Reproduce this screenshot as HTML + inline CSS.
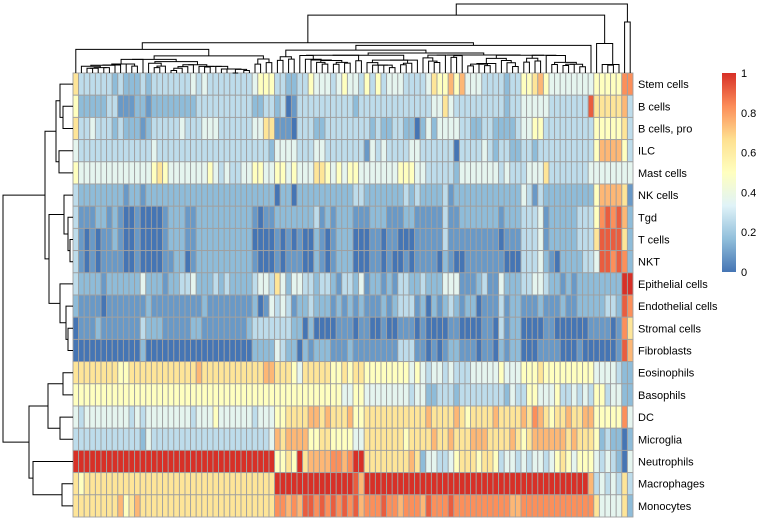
<!DOCTYPE html>
<html><head><meta charset="utf-8">
<style>
html,body{margin:0;padding:0;background:#fff;}
svg{display:block;font-family:"Liberation Sans",sans-serif;}
</style></head>
<body>
<svg id="chart" width="758" height="523" viewBox="0 0 758 523" xmlns="http://www.w3.org/2000/svg">
  <defs>
    <linearGradient id="lg" x1="0" y1="1" x2="0" y2="0">
      <stop offset="0" stop-color="#4575B4"/>
      <stop offset="0.1667" stop-color="#91BFDB"/>
      <stop offset="0.3333" stop-color="#E0F3F8"/>
      <stop offset="0.5" stop-color="#FFFFBF"/>
      <stop offset="0.6667" stop-color="#FEE090"/>
      <stop offset="0.8333" stop-color="#FC8D59"/>
      <stop offset="1" stop-color="#D73027"/>
    </linearGradient>
  </defs>
  <g id="cells"></g>
  <g id="coldend"></g>
  <g id="rowdend"></g>
  <g id="rowlabels"></g>
  <g id="legend">
    <rect x="722" y="73" width="14" height="199" fill="url(#lg)"/>
  </g>
</svg>
<script>
const rowNames = ["Stem cells","B cells","B cells, pro","ILC","Mast cells","NK cells","Tgd","T cells","NKT","Epithelial cells","Endothelial cells","Stromal cells","Fibroblasts","Eosinophils","Basophils","DC","Microglia","Neutrophils","Macrophages","Monocytes"];
const levelValues = [0,0.08,0.16,0.26,0.36,0.5,0.64,0.75,0.83,0.92,1];
const row0  = "6 3 3 3 3 3 3 2 3 2 2 2 3 2 3 3 3 3 3 3 3 4 3 4 3  3 3 3 3 3 3 3 4 5 5 5 3 3 2 2 3 3 5 4 4 4 3 4 5 4  4 3 5 3 5 3 4 4 4 3 3 3 3 4 6 5 5 7 5 7 4 4 4 3 3  3 3 2 3 3 5 5 6 7 5 4 4 4 4 4 4 4 4 5 5 5 5 5 8 8";
const row1  = "5 2 2 2 2 2 3 3 1 1 1 2 2 1 2 2 2 2 2 2 2 2 3 3 3  3 3 3 3 3 3 3 2 2 3 3 2 3 0 1 3 3 3 3 3 3 3 3 3 3  2 3 3 3 3 3 3 3 3 3 3 3 3 3 4 4 6 4 3 3 3 3 3 3 3  3 3 2 3 3 4 4 4 4 4 3 3 3 3 3 3 3 9 6 6 6 6 6 7 3";
const row2  = "6 3 3 4 3 3 3 2 3 2 2 2 1 2 3 3 3 3 3 4 3 3 3 4 4  4 3 3 3 3 3 3 4 4 6 6 1 1 1 0 3 3 3 2 2 3 3 3 3 3  3 3 3 2 3 2 2 3 3 2 2 0 2 4 2 4 4 4 4 3 3 2 2 3 3  2 2 2 2 3 4 4 5 5 3 3 3 3 3 3 3 3 3 5 5 5 5 5 6 3";
const row3  = "4 3 3 3 3 3 3 3 3 3 3 3 3 3 4 3 3 3 3 3 3 3 3 3 3  3 3 3 3 3 3 3 3 3 3 2 4 4 4 4 3 3 3 4 4 3 3 3 3 3  3 3 1 4 3 4 3 3 3 3 4 4 3 3 3 3 3 3 0 3 3 3 3 4 3  2 3 3 2 2 3 3 2 3 3 3 3 3 3 3 3 3 3 5 7 7 7 7 5 3";
const row4  = "5 4 4 4 4 4 4 4 4 4 4 4 4 4 5 6 5 4 4 4 4 4 4 4 5  4 3 4 3 3 4 4 5 5 4 4 5 5 4 5 4 4 4 6 6 5 4 5 4 5  5 4 4 4 4 4 4 4 5 5 5 4 4 3 3 3 3 3 2 4 4 4 4 4 4  4 3 4 3 3 3 4 4 4 6 3 3 3 3 3 3 3 4 4 4 4 4 4 4 4";
const row5  = "3 2 2 2 2 2 2 2 2 1 2 2 1 2 2 2 2 2 2 2 2 2 2 2 2  2 2 2 2 2 2 2 2 2 2 2 0 2 2 0 2 2 2 2 2 2 2 2 2 2  3 3 2 2 2 2 2 2 2 3 2 3 2 2 2 2 3 1 2 2 2 2 2 2 2  2 2 2 2 2 4 3 1 3 2 2 2 2 2 2 2 2 2 5 7 7 7 7 6 1";
const row6  = "3 1 1 1 2 2 1 2 1 0 0 1 0 0 0 0 1 2 2 2 1 1 2 2 2  2 2 2 2 2 2 2 1 0 1 1 2 2 2 2 2 2 2 3 1 2 1 2 2 2  1 1 1 2 2 2 1 1 1 2 2 1 1 1 1 1 3 1 1 2 2 2 2 2 2  2 1 2 2 2 3 3 3 4 1 2 2 2 2 2 3 3 3 5 8 9 8 9 7 2";
const row7  = "3 1 0 1 0 1 1 2 1 0 0 1 0 0 0 0 1 2 2 2 1 1 2 2 2  2 2 2 2 2 2 2 0 0 0 0 1 0 1 0 1 0 0 2 1 0 1 2 2 2  0 0 0 1 1 0 1 1 0 0 0 1 1 1 1 1 3 1 1 1 1 1 1 1 1  1 0 1 1 1 3 3 3 4 1 2 2 2 2 2 3 3 3 6 9 9 9 9 6 2";
const row8  = "3 1 0 1 0 1 1 1 1 0 0 1 0 0 0 0 1 1 2 2 0 1 2 2 2  2 2 2 2 2 2 2 1 0 0 0 1 0 1 1 1 0 0 2 1 0 1 2 2 2  0 0 0 1 1 0 1 0 0 1 0 1 1 1 1 0 2 1 0 0 1 1 1 1 1  1 1 0 0 0 3 3 3 4 2 1 0 2 2 2 2 3 3 4 9 9 8 9 8 2";
const row9  = "3 2 2 2 2 1 2 2 2 2 2 2 4 2 2 2 1 2 2 3 3 4 2 2 2  3 2 3 2 2 2 2 3 4 4 3 6 4 2 4 4 3 3 2 3 3 2 1 3 3  2 4 1 2 2 1 2 1 3 3 2 2 3 2 2 2 4 4 4 1 1 1 2 3 1  1 4 2 2 2 3 3 4 4 3 2 2 1 2 1 2 2 2 2 2 2 2 2 10 10";
const row10 = "2 1 1 1 1 0 1 1 1 1 1 1 1 2 1 1 1 1 1 1 1 1 1 2 1  1 1 1 1 1 1 1 2 0 1 4 3 4 3 1 2 2 3 2 2 2 1 2 1 2  1 2 1 1 1 2 1 2 3 3 3 1 2 0 2 1 2 3 2 1 2 2 0 1 1  1 3 1 2 2 1 1 1 2 1 1 1 2 1 1 2 2 2 2 2 3 3 2 9 8";
const row11 = "0 1 1 1 2 1 1 1 1 1 1 1 3 2 2 2 1 1 1 1 1 2 2 1 1  1 1 1 1 1 1 2 3 3 3 3 3 3 3 2 2 0 2 0 0 0 0 1 1 1  0 1 1 0 0 1 0 0 1 1 1 0 1 0 0 0 0 1 1 0 0 0 0 1 1  0 3 1 2 2 0 0 0 0 1 1 0 0 0 0 0 0 1 1 1 1 0 1 8 6";
const row12 = "0 0 0 0 0 0 0 0 0 0 0 0 2 0 0 0 0 0 0 0 0 0 0 0 0  0 0 0 0 0 0 0 2 2 2 2 4 3 2 2 0 2 1 2 2 2 1 1 1 2  1 1 1 1 1 1 1 1 3 3 3 1 1 0 1 0 1 2 2 1 1 1 0 1 1  0 2 1 2 2 0 0 0 1 1 1 1 0 0 0 1 0 0 0 0 0 0 1 9 7";
const row13 = "6 6 6 6 6 6 6 6 5 5 6 6 6 6 6 6 6 6 6 6 6 6 7 6 6  6 6 6 6 6 6 6 6 6 7 7 6 6 6 5 4 6 6 6 6 6 5 5 6 5  6 6 5 5 5 5 5 5 5 5 4 5 4 3 4 4 3 4 3 3 3 4 4 4 4  4 5 4 4 4 5 5 5 6 5 5 5 5 5 5 5 5 5 4 4 4 4 3 2 2";
const row14 = "5 5 5 5 5 5 5 5 5 5 5 5 5 5 5 5 5 5 5 5 5 5 5 5 5  5 5 5 5 5 5 5 5 5 5 5 5 5 5 5 5 5 5 5 5 5 5 5 4 4  5 5 4 4 4 4 4 4 4 4 3 4 4 2 2 3 3 3 2 3 3 3 3 3 3  3 3 2 4 3 3 5 5 4 4 4 5 3 3 4 3 4 3 5 5 3 4 4 2 2";
const row15 = "4 3 4 4 4 4 4 4 4 4 3 4 3 4 4 4 4 4 4 4 4 3 4 4 4  5 4 4 4 4 4 4 3 4 4 4 5 5 6 6 6 6 7 7 6 7 6 6 6 7  5 5 6 6 6 6 6 6 6 6 6 6 6 7 6 6 6 6 7 6 5 6 6 6 6  7 6 6 6 6 7 6 8 7 6 5 6 6 7 6 6 7 7 5 5 5 5 5 8 4";
const row16 = "3 3 3 3 3 3 3 3 3 3 3 3 2 4 3 3 3 3 3 3 3 3 3 3 3  3 3 3 3 3 3 3 3 3 3 4 7 6 7 7 7 7 5 5 6 6 5 5 5 5  4 4 6 6 6 6 6 6 6 5 6 6 6 6 7 6 6 7 6 6 6 7 7 7 6  6 6 6 7 6 5 6 7 7 7 7 7 7 6 7 6 6 6 5 2 3 2 2 0 2";
const row17 = "10 10 10 10 10 10 10 10 10 10 10 10 10 10 10 10 10 10 10 10 10 10 10 10 10  10 10 10 10 10 10 10 10 10 10 10 5 5 6 5 10 6 7 7 7 7 8 8 7 8  10 10 6 6 6 6 6 6 6 6 7 6 2 4 4 3 3 4 5 6 6 6 5 6 6  5 3 4 4 3 4 3 4 4 3 4 5 6 5 4 5 5 5 4 3 4 3 2 0 4";
const row18 = "6 5 6 6 6 6 6 6 6 6 6 6 6 6 6 6 6 6 6 6 6 6 6 6 6  6 6 6 6 6 6 6 6 6 6 6 10 10 10 10 10 10 10 10 10 10 10 10 10 10  9 7 10 10 10 10 10 10 10 10 10 10 10 10 10 10 10 10 10 10 10 10 10 10 10  10 10 10 10 10 10 10 10 10 10 10 10 10 10 10 10 10 7 3 4 3 4 3 6 3";
const row19 = "6 6 6 6 6 6 6 6 7 5 6 7 6 6 6 6 6 6 6 6 6 6 6 6 6  6 6 6 6 6 6 6 6 6 6 6 8 8 7 8 7 9 9 8 9 8 9 8 9 8  9 7 8 8 8 9 8 8 7 8 8 8 7 9 8 8 8 9 8 8 8 8 8 8 8  8 8 8 7 7 8 8 8 8 8 8 8 8 8 8 8 8 8 6 4 4 4 4 6 2";
const rowLevels = [row0,row1,row2,row3,row4,row5,row6,row7,row8,row9,row10,row11,row12,row13,row14,row15,row16,row17,row18,row19];
const rowMerges = [[1,2,10],[0,-1,13],[3,4,14],[-2,-3,17],[7,8,3],[6,-5,5],[5,-6,9],[11,12,5],[10,-8,7],[9,-9,13],[-7,-10,24],[-4,-11,28],[13,14,10],[15,16,13],[-13,-14,25],[18,19,11],[17,-16,40],[-15,-17,44],[-12,-18,70]];
const legendTicks = [0,0.2,0.4,0.6,0.8,1];
const legendLabels = ["0","0.2","0.4","0.6","0.8","1"];

const NS = "http://www.w3.org/2000/svg";
const X0 = 73, Y0 = 73, W = 560, H = 444;
const data = rowLevels.map(s => s.trim().split(/\s+/).map(t => levelValues[+t]));
const nR = data.length, nC = data[0].length;
const cw = W / nC, rh = H / nR;
const xScale = c => X0 + c * cw;
const yScale = r => Y0 + r * rh;

const stops = [[0,[69,117,180]],[1/6,[145,191,219]],[2/6,[224,243,248]],[3/6,[255,255,191]],[4/6,[254,224,144]],[5/6,[252,141,89]],[1,[215,48,39]]];
function color(v){
  v = Math.max(0, Math.min(1, v));
  for (let i = 1; i < stops.length; i++){
    if (v <= stops[i][0]){
      const a = stops[i-1], b = stops[i], t = (v - a[0]) / (b[0] - a[0]);
      const c = a[1].map((x, k) => Math.round(x + (b[1][k] - x) * t));
      return "rgb(" + c.join(",") + ")";
    }
  }
  return "rgb(215,48,39)";
}
function mk(tag, attrs, parent){
  const el = document.createElementNS(NS, tag);
  for (const k in attrs) el.setAttribute(k, attrs[k]);
  parent.appendChild(el);
  return el;
}

const gCells = document.getElementById("cells");
for (let r = 0; r < nR; r++){
  for (let c = 0; c < nC; c++){
    const el = mk("rect", {x: xScale(c), y: yScale(r), width: cw, height: rh, fill: color(data[r][c]), stroke: "#a0a0a0", "stroke-width": 0.9}, gCells);
    
    
  }
}

const gLab = document.getElementById("rowlabels");
rowNames.forEach((n, r) => {
  const t = mk("text", {x: 638, y: yScale(r) + rh / 2 + 4, "font-size": 11, fill: "#000"}, gLab);
  t.textContent = n;
  
  
});

const gRD = document.getElementById("rowdend");
const rnodes = [];
function rpos(i){ return i >= 0 ? {x: X0, y: yScale(i) + rh / 2} : rnodes[-i - 1]; }
const rMax = Math.max(...rowMerges.map(m => m[2]));
rowMerges.forEach(m => {
  const a = rpos(m[0]), b = rpos(m[1]);
  const x = X0 - 70 * m[2] / rMax;
  const p = mk("path", {d: `M${a.x},${a.y}H${x}V${b.y}H${b.x}`, fill: "none", stroke: "#000", "stroke-width": 1}, gRD);
  
  
  rnodes.push({x: x, y: (a.y + b.y) / 2});
});

const gCD = document.getElementById("coldend");
function dist(i, j){ let s = 0; for (let r = 0; r < nR; r++){ const d = data[r][i] - data[r][j]; s += d * d; } return Math.sqrt(s); }
let clusters = [];
for (let c = 0; c < nC; c++) clusters.push({members: [c], x: xScale(c) + cw / 2, h: 0});
const merges = [];
while (clusters.length > 1){
  let best = -1, bd = Infinity;
  for (let i = 0; i < clusters.length - 1; i++){
    const A = clusters[i].members, B = clusters[i + 1].members;
    let s = 0;
    for (const a of A) for (const b of B) s += dist(a, b);
    s /= A.length * B.length;
    if (s < bd){ bd = s; best = i; }
  }
  const A = clusters[best], B = clusters[best + 1];
  const h = Math.max(bd, A.h, B.h);
  const node = {members: A.members.concat(B.members), x: (A.x + B.x) / 2, h: h};
  merges.push([A, B, node]);
  clusters.splice(best, 2, node);
}
const hRoot = clusters[0].h;
const yOf = h => Y0 - 69 * Math.pow(h / hRoot, 1.0);
merges.forEach(([A, B, N]) => {
  const y = yOf(N.h);
  const p = mk("path", {d: `M${A.x},${yOf(A.h)}V${y}H${B.x}V${yOf(B.h)}`, fill: "none", stroke: "#000", "stroke-width": 1}, gCD);
  
  
});

const gLeg = document.getElementById("legend");
legendTicks.forEach((v, i) => {
  const t = mk("text", {x: 741, y: 272 - v * 199 + 4, "font-size": 11, fill: "#000"}, gLeg);
  t.textContent = legendLabels[i];
  
  
});
</script>
</body></html>
